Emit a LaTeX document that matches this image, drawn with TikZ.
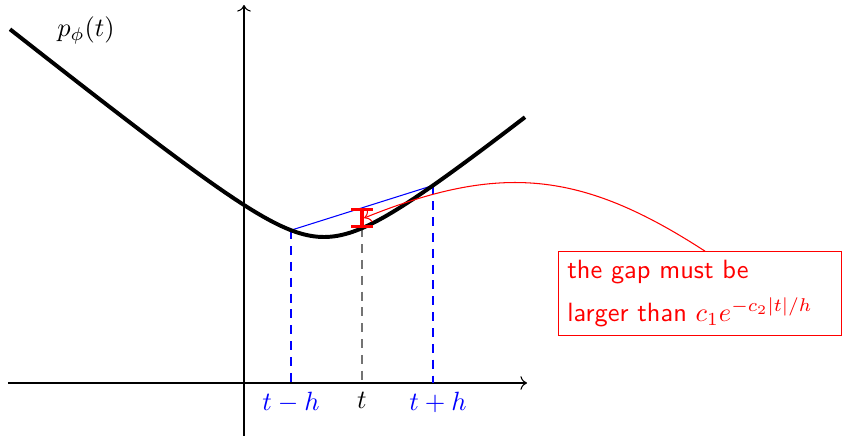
\documentclass[tikz,border=0pt]{standalone}
\usetikzlibrary{arrows.meta}
\begin{document}
\begin{tikzpicture}[x=0.3788pt,y=0.3788pt,
  axisline/.style={->, line width=0.4pt},
  mycurve/.style={line width=1.5pt, line join=round},
  bluedash/.style={blue, dash pattern=on 3.4pt off 2.6pt, line width=0.45pt},
  graydash/.style={black!55, dash pattern=on 3.4pt off 2.6pt, line width=0.7pt},
  secant/.style={blue, line width=0.4pt},
  gapbar/.style={red, line width=1.2pt, {Bar[width=8pt]}-{Bar[width=8pt]}},
  notebox/.style={draw=red, text=red, font=\sffamily, text width=100.5pt, align=left, minimum height=30.7pt, line width=0.4pt},
  notearrow/.style={red, ->, line width=0.4pt}]
\useasboundingbox (-244,-53) rectangle (601,383);
% axes
\coordinate (xs) at (-236,0);
\coordinate (xe) at (283,0);
\coordinate (ys) at (0,-53);
\coordinate (ye) at (0,378);
\draw[axisline] (xs) -- (xe);
\draw[axisline] (ys) -- (ye);
% key points
\coordinate (A) at (47,152.78);
\coordinate (B) at (118,154.82);
\coordinate (C) at (189,197.54);
\coordinate (M) at (118,175.16);
\coordinate (G) at (118,165);
\coordinate (A0) at (47,0);
\coordinate (B0) at (118,0);
\coordinate (C0) at (189,0);
% dashed drops
\draw[bluedash] (A) -- (A0);
\draw[graydash] (B) -- (B0);
\draw[bluedash] (C) -- (C0);
% secant
\draw[secant] (A) -- (C);
% curve
\draw[mycurve] plot[domain=-234:281, samples=150] (\x, {98+100*sqrt(0.2304+0.64*((\x-80)/100)^2)});
% gap
\draw[gapbar] (B) -- (M);
% labels
\node[blue, below] (lA) at (A0) {$t-h$};
\node[black, below] (lB) at (B0) {$t$};
\node[blue, below] (lC) at (194,0) {$t+h$};
\node (pl) at (-158,353) {$p_\phi(t)$};
% note
\node[notebox] (box) at (456,89.5) {the gap must be\\[4pt]larger than $c_1e^{-c_2|t|/h}$};
\draw[notearrow] ([xshift=1.9pt]box.north) to[out=147, in=22, looseness=1.1] ([xshift=0.8pt]G);
\end{tikzpicture}
\end{document}
